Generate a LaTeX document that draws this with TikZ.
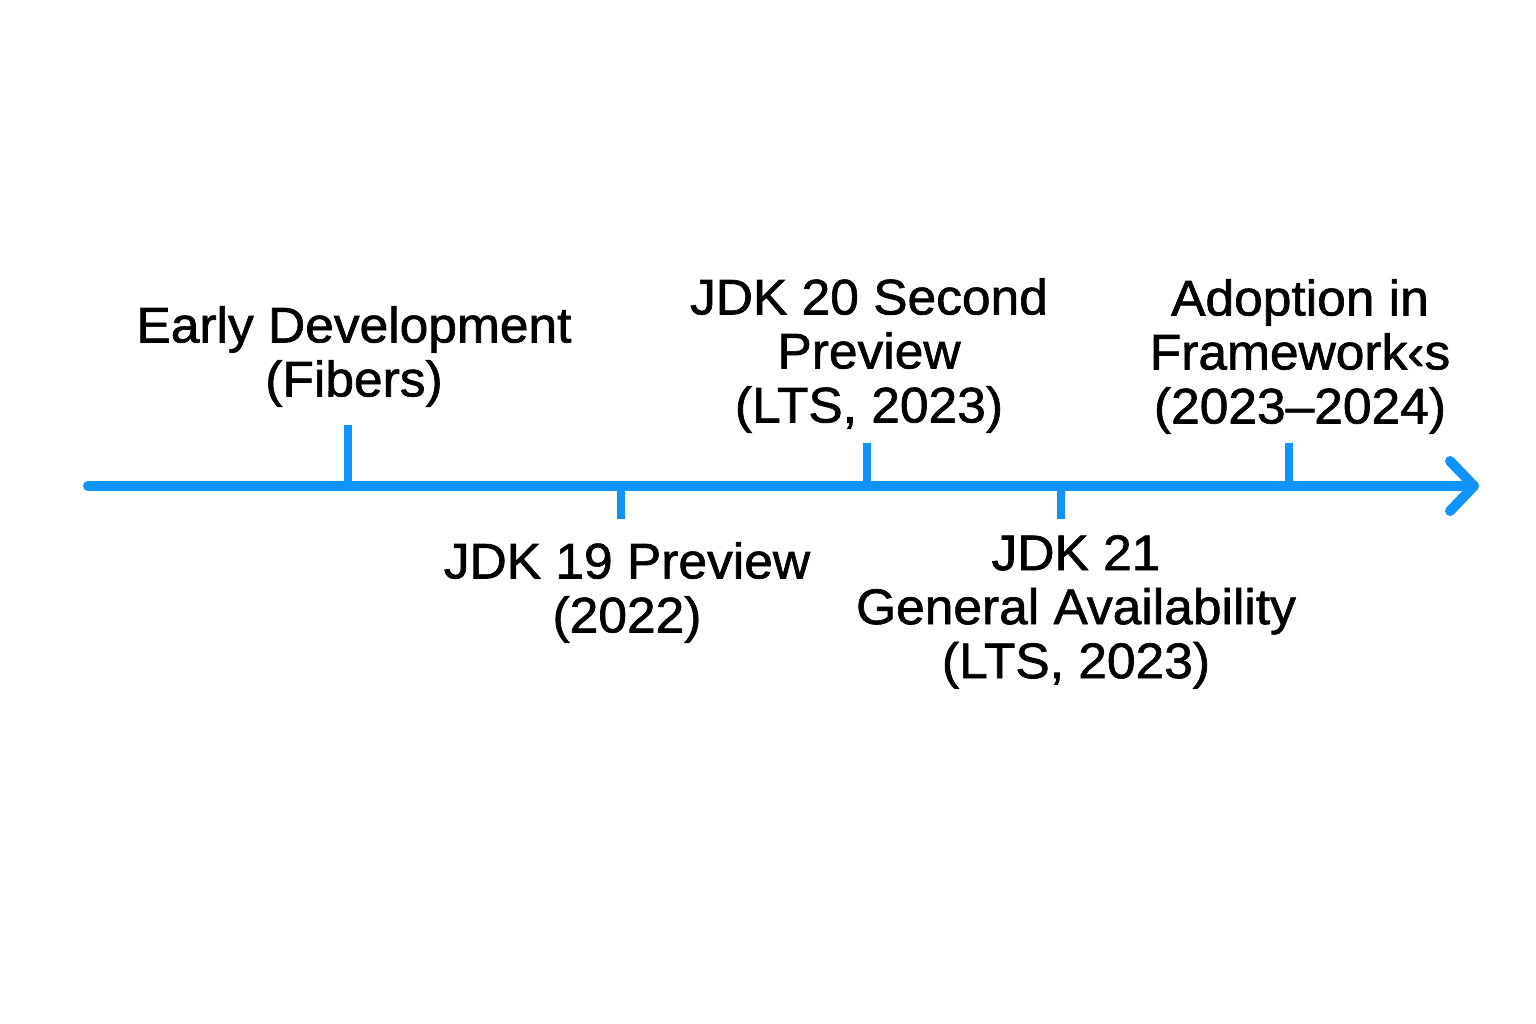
\documentclass[tikz,border=0pt]{standalone}
\usepackage{fontspec}
\setmainfont{Liberation Sans}[FakeBold=1.3,FakeStretch=1.03]
\definecolor{tlblue}{RGB}{15,148,255}
\begin{document}
\begin{tikzpicture}[x=1pt,y=-1pt,
  axisline/.style={draw=tlblue,line width=10pt,line cap=round},
  tickline/.style={draw=tlblue,line width=8pt},
  headline/.style={draw=tlblue,line width=10pt,line cap=round,line join=round},
  lbl/.style={inner sep=0pt,align=center,text=black,font=\fontsize{50}{54}\selectfont}]
\useasboundingbox (0,0) rectangle (1536,1024);
\fill[white] (0,0) rectangle (1536,1024);
% axis
\coordinate (s) at (88,486);
\coordinate (e) at (1474,486);
\coordinate (h1) at (1450,461);
\coordinate (h2) at (1450,511);
\draw[axisline] (s) -- (e);
\draw[headline] (h1) -- (e) -- (h2);
% ticks
\coordinate (t1a) at (348,425); \coordinate (t1b) at (348,486);
\coordinate (t2a) at (621,486); \coordinate (t2b) at (621,519);
\coordinate (t3a) at (867,443); \coordinate (t3b) at (867,486);
\coordinate (t4a) at (1061,486); \coordinate (t4b) at (1061,519);
\coordinate (t5a) at (1289,443); \coordinate (t5b) at (1289,486);
\draw[tickline] (t1a) -- (t1b);
\draw[tickline] (t2a) -- (t2b);
\draw[tickline] (t3a) -- (t3b);
\draw[tickline] (t4a) -- (t4b);
\draw[tickline] (t5a) -- (t5b);
% labels
\node[lbl,anchor=north] (l1) at (354,306) {Early Development\\(Fibers)};
\node[lbl,anchor=north] (l2) at (627,542) {JDK 19 Preview\\(2022)};
\node[lbl,anchor=north] (l3) at (869,278) {JDK 20 Second\\Preview\\(LTS, 2023)};
\node[lbl,anchor=north] (l4) at (1076,535) {JDK 21\\General Availability\\(LTS, 2023)};
\node[lbl,anchor=north] (l5) at (1300,279) {Adoption in\\Framework‹s\\(2023–2024)};
\end{tikzpicture}
\end{document}
